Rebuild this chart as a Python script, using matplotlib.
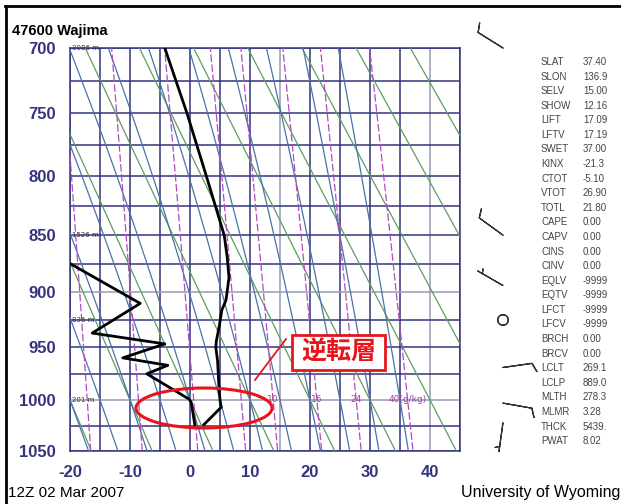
import numpy as np
import matplotlib
matplotlib.use("Agg")
import matplotlib.pyplot as plt
from matplotlib.patches import Ellipse, Rectangle
from matplotlib.lines import Line2D

# station / sounding data
station = "47600 Wajima"
stamp = "12Z 02 Mar 2007"

p_temp = [1024, 1007, 1000, 985, 963, 950, 944, 930, 916, 907, 887, 869, 850, 800, 750, 700]
t_temp = [2.3, 5.2, 5.0, 4.8, 4.6, 4.3, 4.4, 4.9, 5.3, 6.0, 6.5, 6.2, 5.7, 2.7, -0.5, -4.2]

p_dew = [1024, 1002, 999, 975, 967, 960, 947, 937, 910, 874, 862]
t_dew = [0.8, 0.2, -0.2, -7.2, -3.7, -11.2, -4.2, -16.3, -8.3, -20.2, -23.0]

# height labels on isobars
h_p = [700, 850, 925, 1000]
h_txt = ["3086 m", "1526 m", "836 m", "201 m"]

# winds: pressure, direction (deg), speed (kt)
w_p = [700, 850, 894, 925, 969, 1003, 1022]
w_dir = [302, 306, 300, 0, 82, 100, 188]
w_spd = [10, 10, 5, 0, 10, 10, 5]

# indices column
idx_names = ["SLAT", "SLON", "SELV", "SHOW", "LIFT", "LFTV", "SWET", "KINX", "CTOT",
             "VTOT", "TOTL", "CAPE", "CAPV", "CINS", "CINV", "EQLV", "EQTV", "LFCT",
             "LFCV", "BRCH", "BRCV", "LCLT", "LCLP", "MLTH", "MLMR", "THCK", "PWAT"]
idx_vals = ["37.40", "136.9", "15.00", "12.16", "17.09", "17.19", "37.00", "-21.3", "-5.10",
            "26.90", "21.80", "0.00", "0.00", "0.00", "0.00", "-9999", "-9999", "-9999",
            "-9999", "0.00", "0.00", "269.1", "889.0", "278.3", "3.28", "5439.", "8.02"]

# background line sets
isotherms = list(range(-20, 50, 5))
isobars = list(range(700, 1075, 25))
thetas = list(range(-20, 80, 10))
theta_w = list(range(-20, 40, 5))
mix_r = [0.4, 1, 2, 4, 7, 10, 16, 24, 40]
mix_lab = [10, 16, 24, 40]

W, H = 621, 504
KAP = 0.286
navy = "#34347e"

def fx(x):
    return x / W

def fy(y):
    return 1 - y / H

def fwd(p):
    return np.power(np.clip(p, 1e-6, None), KAP)

def inv(q):
    return np.power(np.clip(q, 1e-9, None), 1.0 / KAP)

def td_from_w(w, p):
    e = w * p / (622.0 + w)
    a = np.log(e / 6.112)
    return 243.5 * a / (17.67 - a)

def moist(tw, pp):
    Rd, cp, Lv, eps = 287.04, 1005.7, 2.501e6, 0.622
    def f(T, p):
        es = 6.112 * np.exp(17.67 * (T - 273.15) / (T - 29.65))
        rs = eps * es / (p - es)
        return (Rd * T + Lv * rs) / (cp + Lv * Lv * rs * eps / (Rd * T * T)) / p
    out = []
    for pend in pp:
        T = tw + 273.15
        p = 1000.0
        n = 200
        h = (pend - 1000.0) / n
        for _ in range(n):
            k1 = f(T, p)
            k2 = f(T + h * k1 / 2, p + h / 2)
            k3 = f(T + h * k2 / 2, p + h / 2)
            k4 = f(T + h * k3, p + h)
            T += h * (k1 + 2 * k2 + 2 * k3 + k4) / 6
            p += h
        out.append(T - 273.15)
    return np.array(out)

fig = plt.figure(figsize=(6.21, 5.04), dpi=100)
ax = fig.add_axes([fx(70), fy(451), (460 - 70) / W, (451 - 48) / H])
ax.set_yscale("function", functions=(fwd, inv))
ax.set_xlim(-20, 45)
ax.set_ylim(1050, 700)

pp = np.linspace(690, 1060, 60)

for t in isotherms:
    c = "#9a9ab4" if t in (15, 40) else navy
    ax.axvline(t, color=c, lw=1.1, zorder=2)
for p in isobars:
    c = "#9a9ab4" if p in (900, 1000) else navy
    ax.axhline(p, color=c, lw=1.1, zorder=2)

for th in thetas:
    tt = (th + 273.15) * (pp / 1000.0) ** KAP - 273.15
    ax.plot(tt, pp, color="#5e9e5e", lw=0.9, zorder=3)

for tw in theta_w:
    ax.plot(moist(tw, pp), pp, color="#4a72a8", lw=0.9, zorder=3)

for w in mix_r:
    ax.plot(td_from_w(w, pp), pp, color="#b04cc0", lw=0.9, dashes=(6, 2), zorder=3)
for w in mix_lab:
    lab = "40(g/kg)" if w == 40 else str(w)
    ax.text(td_from_w(w, 1000.0), 1000, lab, color="#a040a8", fontsize=6.5,
            ha="center", va="center", zorder=4)

for p, s in zip(h_p, h_txt):
    ax.text(-19.6, p, s, color="#333333", fontsize=5, ha="left", va="center", zorder=4)

ax.plot(t_temp, p_temp, color="black", lw=2.0, zorder=5)
ax.plot(t_dew, p_dew, color="black", lw=2.0, zorder=5)

ax.set_yticks([700, 750, 800, 850, 900, 950, 1000, 1050])
ax.set_yticklabels(["700", "750", "800", "850", "900", "950", "1000", "1050"])
ax.set_xticks([-20, -10, 0, 10, 20, 30, 40])
ax.set_xticklabels(["-20", "-10", "0", "10", "20", "30", "40"])
ax.minorticks_off()
ax.tick_params(length=0, labelsize=12, labelcolor=navy, pad=10)
for lab in ax.get_xticklabels() + ax.get_yticklabels():
    lab.set_fontweight("bold")
    lab.set_family("Liberation Sans")
for s in ax.spines.values():
    s.set_color(navy)
    s.set_linewidth(1.1)

# wind barbs column (linear axis in p**kappa so the barb shapes stay in points)
ax2 = fig.add_axes([fx(470), fy(451), (540 - 470) / W, (451 - 48) / H])
ax2.set_ylim(fwd(1050), fwd(700))
ax2.set_xlim(0, 70)
ax2.axis("off")
d = np.radians(w_dir)
u = -np.array(w_spd, dtype=float) * np.sin(d)
v = -np.array(w_spd, dtype=float) * np.cos(d)
ax2.barbs(np.full(len(w_p), 33.0), fwd(np.array(w_p, dtype=float)), u, v, length=6.5,
          lw=0.9, color="#333333", sizes=dict(height=0.3, emptybarb=0.18), clip_on=False)

# texts
fig.text(fx(12), fy(31), station, fontsize=10.5, fontweight="bold", family="Liberation Sans",
         ha="left", va="center")
fig.text(fx(8), fy(493), stamp, fontsize=11, family="Liberation Sans", ha="left", va="center")
fig.text(fx(620), fy(493), "University of Wyoming", fontsize=11.5, family="Liberation Sans",
         ha="right", va="center")
for i, (n, val) in enumerate(zip(idx_names, idx_vals)):
    y = 62 + i * 14.58
    fig.text(fx(541), fy(y), n, fontsize=7, color="#444444", family="Liberation Sans",
             ha="left", va="center")
    fig.text(fx(583), fy(y), val, fontsize=7, color="#444444", family="Liberation Sans",
             ha="left", va="center")

# frame at top and left
fig.add_artist(Line2D([fx(5), 1.0], [fy(6), fy(6)], color="black", lw=2))
fig.add_artist(Line2D([fx(6), fx(6)], [fy(6), 0.0], color="black", lw=2))

# red annotation
fig.add_artist(Ellipse((fx(204), fy(408)), 136 / W, 40 / H, fill=False, ec="#e8141c", lw=2.2))
fig.add_artist(Line2D([fx(255), fx(286)], [fy(380), fy(339)], color="#e8141c", lw=1.3))
fig.add_artist(Rectangle((fx(292), fy(370)), 93 / W, 35 / H, fc="white", ec="#e8141c", lw=2))
fig.text(fx(338.5), fy(352), "逆転層", fontsize=18, fontweight="bold", color="#e8141c",
         family=["Noto Sans CJK JP", "DejaVu Sans"], ha="center", va="center")

fig.savefig("out.png", dpi=100)
